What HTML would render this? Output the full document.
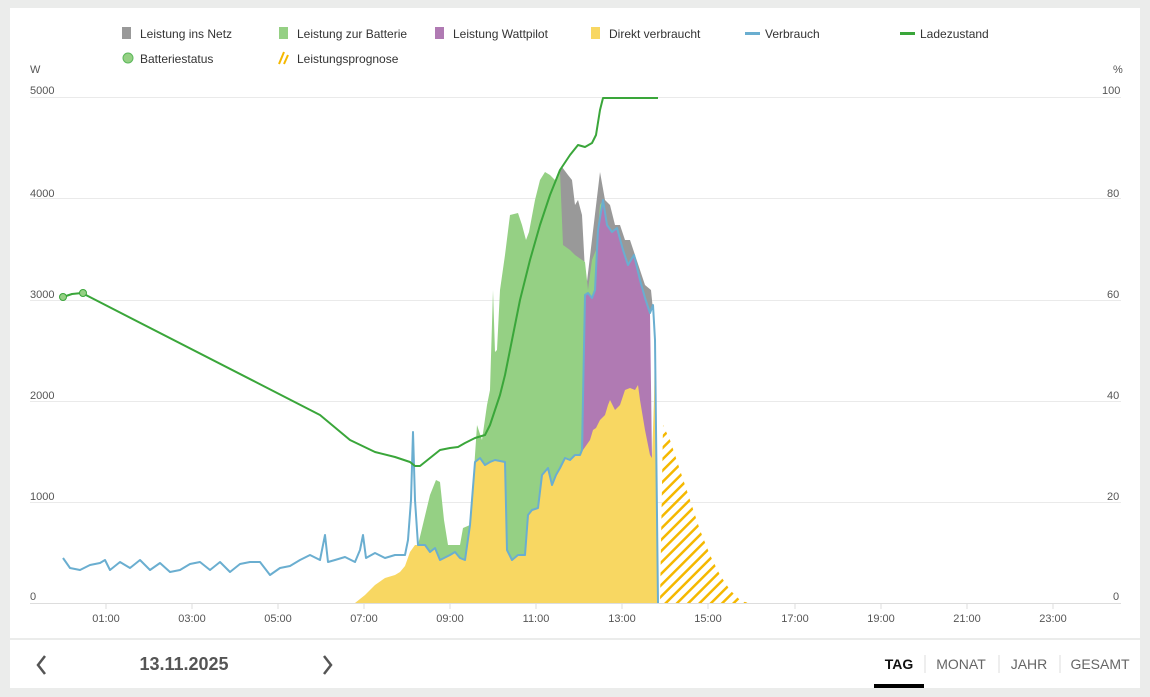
<!DOCTYPE html>
<html><head><meta charset="utf-8"><style>
body{margin:0;width:1150px;height:697px;background:#ebeceb;font-family:"Liberation Sans",sans-serif;overflow:hidden;position:relative}
.card{position:absolute;left:10px;top:8px;width:1130px;height:630px;background:#fff}
.bar{position:absolute;left:10px;top:640px;width:1130px;height:48px;background:#fff}
svg{position:absolute;left:0;top:0}
.t{font-size:12px;fill:#333}
.a{font-size:11px;fill:#555}
</style></head><body>
<div class="card"></div>
<div class="bar"></div>
<svg width="1150" height="697" viewBox="0 0 1150 697">
<defs>
<pattern id="h" width="8" height="8" patternUnits="userSpaceOnUse" patternTransform="rotate(45)">
<rect width="2.5" height="8" fill="#f5b800"/></pattern>
</defs>
<rect x="122" y="27" width="9" height="12" fill="#999"/><text class="t" x="140" y="38">Leistung ins Netz</text>
<rect x="279" y="27" width="9" height="12" fill="#95d084"/><text class="t" x="297" y="38">Leistung zur Batterie</text>
<rect x="435" y="27" width="9" height="12" fill="#b07ab3"/><text class="t" x="453" y="38">Leistung Wattpilot</text>
<rect x="591" y="27" width="9" height="12" fill="#f8d762"/><text class="t" x="609" y="38">Direkt verbraucht</text>
<rect x="745" y="32" width="15" height="3" fill="#6aaed0"/><text class="t" x="765" y="38">Verbrauch</text>
<rect x="900" y="32" width="15" height="3" fill="#3aa63a"/><text class="t" x="920" y="38">Ladezustand</text>
<circle cx="128" cy="58" r="5" fill="#95d084" stroke="#5cb85c"/><text class="t" x="140" y="63">Batteriestatus</text>
<path d="M279 64 L284 52 M284 64 L288 55" stroke="#f5b800" stroke-width="2"/><text class="t" x="297" y="63">Leistungsprognose</text>
<text class="a" x="30" y="73">W</text><text class="a" x="1113" y="73">%</text>
<g class="a">
<text x="30" y="94">5000</text><text x="30" y="197">4000</text><text x="30" y="298">3000</text><text x="30" y="399">2000</text><text x="30" y="500">1000</text><text x="30" y="600">0</text>
<text x="1102" y="94">100</text><text x="1107" y="197">80</text><text x="1107" y="298">60</text><text x="1107" y="399">40</text><text x="1107" y="500">20</text><text x="1113" y="600">0</text>
</g>
<g stroke="#eaeaea" stroke-width="1">
<line x1="30" y1="97.5" x2="1121" y2="97.5"/><line x1="30" y1="198.5" x2="1121" y2="198.5"/><line x1="30" y1="300.5" x2="1121" y2="300.5"/><line x1="30" y1="401.5" x2="1121" y2="401.5"/><line x1="30" y1="502.5" x2="1121" y2="502.5"/>
</g>
<path fill="#999" d="M560 170 L562 167 L568 175 L572 180 L575 205 L578 200 L582 215 L586 290 L600 172 L605 200 L610 205 L615 225 L620 225 L625 240 L630 240 L640 270 L645 285 L651 290 L653 310 L560 310Z"/>
<path fill="#95d084" d="M405 603 L418 545 L424 520 L430 495 L436 480 L440 482 L444 520 L448 545 L460 545 L463 528 L470 525 L474 470 L477 425 L482 440 L487 405 L490 390 L493 290 L495 352 L497 350 L500 290 L505 255 L510 215 L518 213 L522 225 L526 240 L529 232 L535 200 L540 180 L545 172 L550 175 L555 180 L560 172 L563 245 L570 250 L575 255 L585 262 L588 290 L592 260 L596 250 L600 205 L603 200 L603 603Z"/>
<path fill="#b07ab3" d="M583 450 L585 295 L588 293 L592 298 L595 290 L598 230 L603 200 L607 225 L612 232 L617 228 L623 250 L628 265 L634 255 L640 280 L645 298 L650 313 L652 458 L583 458Z"/>
<path fill="#f8d762" d="M355 603 L365 595 L375 585 L385 578 L395 575 L400 572 L405 566 L410 552 L415 545 L425 545 L430 552 L435 548 L440 560 L450 555 L455 552 L460 558 L465 560 L470 525 L475 462 L480 458 L485 465 L490 462 L495 460 L505 462 L507 550 L512 560 L518 555 L525 555 L528 515 L532 510 L538 508 L542 475 L548 468 L552 485 L556 475 L560 468 L565 458 L570 460 L575 455 L580 455 L583 450 L590 440 L593 430 L596 428 L600 420 L605 415 L608 405 L610 400 L615 410 L620 405 L625 390 L630 388 L635 390 L638 385 L640 400 L645 430 L650 455 L652 458 L654 400 L655 340 L658 603Z"/>
<path fill="url(#h)" d="M660 603 L663 425 L670 440 L680 470 L690 500 L700 530 L710 555 L720 575 L730 590 L740 600 L748 603Z"/>
<polyline fill="none" stroke="#6aaed0" stroke-width="2" stroke-linejoin="round" points="63,558 70,568 80,570 90,565 100,563 105,560 110,570 120,562 130,568 140,560 150,570 160,563 170,572 180,570 190,564 200,562 210,570 220,562 230,572 240,564 250,562 260,562 270,575 280,568 290,566 300,560 310,555 320,560 325,535 328,562 335,560 345,557 355,562 360,550 363,535 366,558 375,553 385,558 395,555 405,555 408,540 411,500 413,432 415,500 418,545 425,545 430,552 435,548 440,560 450,555 455,552 460,558 465,560 470,525 475,462 480,458 485,465 490,462 495,460 505,462 507,550 512,560 518,555 525,555 528,515 532,510 538,508 542,475 548,468 552,485 556,475 560,468 565,458 570,460 575,455 580,455 582,450 585,295 588,293 592,298 595,290 598,230 603,200 607,225 612,232 617,228 623,250 628,265 634,255 640,280 645,298 650,313 653,305 655,340 658,603"/>
<line x1="30" y1="603.5" x2="1121" y2="603.5" stroke="#ddd"/>
<g stroke="#ddd"><line x1="106" y1="604" x2="106" y2="609"/><line x1="192" y1="604" x2="192" y2="609"/><line x1="278" y1="604" x2="278" y2="609"/><line x1="364" y1="604" x2="364" y2="609"/><line x1="450" y1="604" x2="450" y2="609"/><line x1="536" y1="604" x2="536" y2="609"/><line x1="622" y1="604" x2="622" y2="609"/><line x1="708" y1="604" x2="708" y2="609"/><line x1="795" y1="604" x2="795" y2="609"/><line x1="881" y1="604" x2="881" y2="609"/><line x1="967" y1="604" x2="967" y2="609"/><line x1="1053" y1="604" x2="1053" y2="609"/></g>
<g class="a" text-anchor="middle">
<text x="106" y="622">01:00</text><text x="192" y="622">03:00</text><text x="278" y="622">05:00</text><text x="364" y="622">07:00</text><text x="450" y="622">09:00</text><text x="536" y="622">11:00</text><text x="622" y="622">13:00</text><text x="708" y="622">15:00</text><text x="795" y="622">17:00</text><text x="881" y="622">19:00</text><text x="967" y="622">21:00</text><text x="1053" y="622">23:00</text>
</g>
<polyline fill="none" stroke="#3aa63a" stroke-width="2" stroke-linejoin="round" points="63,297 72,294 82,293 320,415 350,440 375,452 395,457 410,462 415,466 420,466 430,458 440,450 450,448 458,447 465,443 475,438 485,435 490,425 495,410 500,395 505,375 510,350 520,300 530,260 540,225 550,195 560,170 570,155 578,145 585,147 592,143 596,135 600,110 603,98 658,98"/>
<circle cx="63" cy="297" r="3.5" fill="#95d084" stroke="#3aa63a"/>
<circle cx="83" cy="293" r="3.5" fill="#95d084" stroke="#3aa63a"/>
<path d="M45 656 L38 665 L45 674" fill="none" stroke="#555" stroke-width="2.5"/>
<path d="M324 656 L331 665 L324 674" fill="none" stroke="#555" stroke-width="2.5"/>
<text x="184" y="670" text-anchor="middle" font-size="18" font-weight="bold" fill="#555">13.11.2025</text>
<text x="899" y="669" text-anchor="middle" font-size="14" font-weight="bold" fill="#111">TAG</text>
<text x="961" y="669" text-anchor="middle" font-size="14" fill="#666">MONAT</text>
<text x="1029" y="669" text-anchor="middle" font-size="14" fill="#666">JAHR</text>
<text x="1100" y="669" text-anchor="middle" font-size="14" fill="#666">GESAMT</text>
<g stroke="#ddd"><line x1="925" y1="655" x2="925" y2="673"/><line x1="999" y1="655" x2="999" y2="673"/><line x1="1060" y1="655" x2="1060" y2="673"/></g>
<rect x="874" y="684" width="50" height="4" fill="#000"/>
</svg>
</body></html>
